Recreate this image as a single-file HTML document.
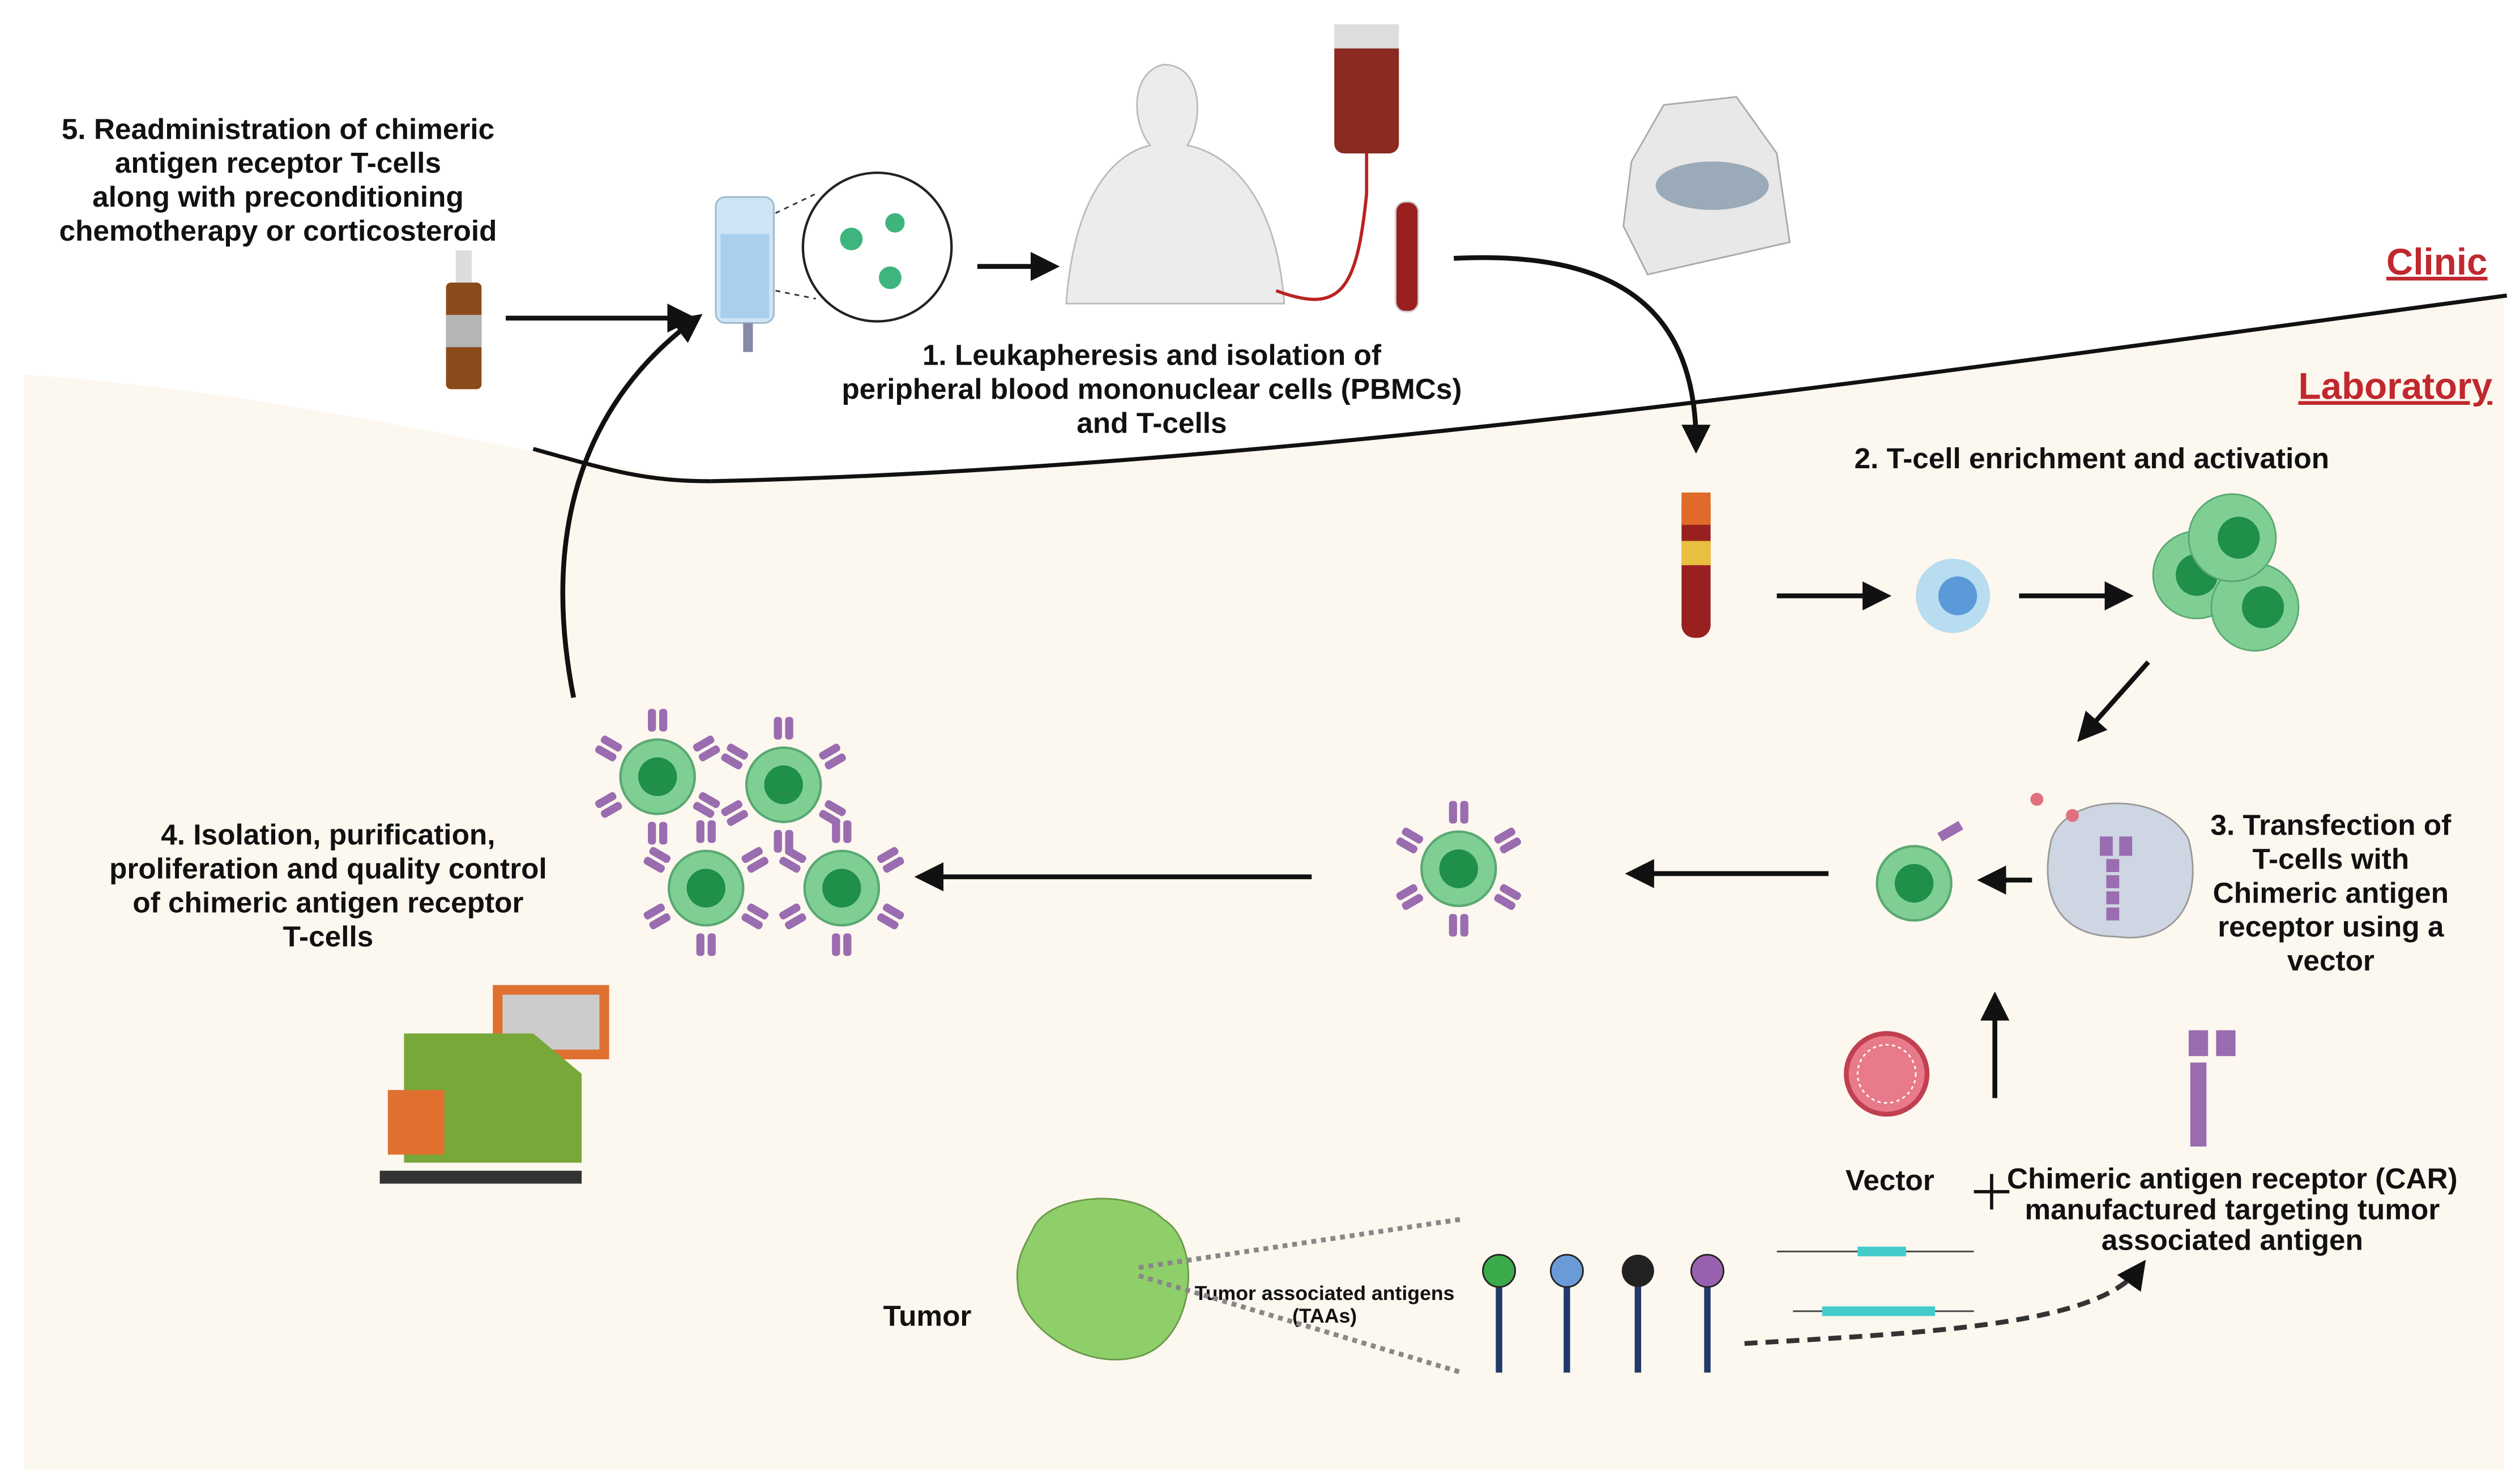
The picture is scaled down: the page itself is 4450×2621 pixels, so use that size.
<!DOCTYPE html>
<html><head><meta charset="utf-8"><style>
html,body{margin:0;padding:0;background:#fff}
svg{display:block}
text{font-family:"Liberation Sans",sans-serif;font-weight:bold;fill:#111}
</style></head><body>
<svg width="4450" height="2621" viewBox="0 0 1560 919" xmlns="http://www.w3.org/2000/svg">
<defs>
<marker id="ah" markerWidth="6" markerHeight="6" refX="4" refY="3" orient="auto" markerUnits="strokeWidth"><path d="M0,0 L6,3 L0,6 Z" fill="#111"/></marker>
<g id="cell"><circle r="23" fill="#7fcf95" stroke="#5aa872" stroke-width="1.5"/><circle r="12" fill="#1f8f4a"/></g>
<g id="ccell">
<use href="#cell"/>
<g fill="#9a6cb0"><rect x="-6" y="-42" width="5" height="14" rx="2"/><rect x="1" y="-42" width="5" height="14" rx="2"/>
<rect x="-6" y="28" width="5" height="14" rx="2"/><rect x="1" y="28" width="5" height="14" rx="2"/>
<g transform="rotate(60)"><rect x="-6" y="-42" width="5" height="14" rx="2"/><rect x="1" y="-42" width="5" height="14" rx="2"/><rect x="-6" y="28" width="5" height="14" rx="2"/><rect x="1" y="28" width="5" height="14" rx="2"/></g>
<g transform="rotate(-60)"><rect x="-6" y="-42" width="5" height="14" rx="2"/><rect x="1" y="-42" width="5" height="14" rx="2"/><rect x="-6" y="28" width="5" height="14" rx="2"/><rect x="1" y="28" width="5" height="14" rx="2"/></g></g>
</g>
</defs>
<path d="M15,232 C200,245 330,285 440,298 C800,290 1200,230 1550,183 L1550,910 L15,910 Z" fill="#fcf7ef"/>
<path d="M440,298 C800,290 1200,230 1552,183" fill="none" stroke="#111" stroke-width="2.5"/>
<path d="M330,278 C380,292 400,298 440,298" fill="none" stroke="#111" stroke-width="2.5"/>
<text x="1540" y="170" text-anchor="end" font-size="23" style="fill:#c0282d;text-decoration:underline">Clinic</text>
<text x="1543" y="247" text-anchor="end" font-size="23" style="fill:#c0282d;text-decoration:underline">Laboratory</text>
<g font-size="18" text-anchor="middle">
<text x="172" y="86">5. Readministration of chimeric</text>
<text x="172" y="107">antigen receptor T-cells</text>
<text x="172" y="128">along with preconditioning</text>
<text x="172" y="149">chemotherapy or corticosteroid</text>
<text x="713" y="226">1.  Leukapheresis and isolation of</text>
<text x="713" y="247">peripheral blood mononuclear cells (PBMCs)</text>
<text x="713" y="268">and T-cells</text>
<text x="1295" y="290">2. T-cell enrichment and activation</text>
<text x="1443" y="517">3. Transfection of</text>
<text x="1443" y="538">T-cells with</text>
<text x="1443" y="559">Chimeric antigen</text>
<text x="1443" y="580">receptor using a</text>
<text x="1443" y="601">vector</text>
<text x="203" y="523">4. Isolation, purification,</text>
<text x="203" y="544">proliferation and quality control</text>
<text x="203" y="565">of chimeric antigen receptor</text>
<text x="203" y="586">T-cells</text>
<text x="1170" y="737">Vector</text>
<text x="1382" y="736">Chimeric antigen receptor (CAR)</text>
<text x="1382" y="755">manufactured targeting tumor</text>
<text x="1382" y="774">associated antigen</text>
<text x="574" y="821">Tumor</text>
</g>
<text x="820" y="805" font-size="12.5" text-anchor="middle">Tumor associated antigens</text>
<text x="820" y="819" font-size="12.5" text-anchor="middle">(TAAs)</text>
<!-- bottle -->
<rect x="282" y="155" width="10" height="20" fill="#ddd"/><rect x="276" y="175" width="22" height="66" rx="3" fill="#8a4a1a"/><rect x="276" y="195" width="22" height="20" fill="#b5b5b5"/>
<!-- IV bag -->
<rect x="443" y="122" width="36" height="78" rx="6" fill="#cfe4f4" stroke="#9cb8cc"/><rect x="446" y="145" width="30" height="52" fill="#a8d0ec"/><rect x="460" y="200" width="6" height="18" fill="#88a"/>
<circle cx="543" cy="153" r="46" fill="#fff" stroke="#222" stroke-width="1.5"/>
<circle cx="527" cy="148" r="7" fill="#3db57c"/><circle cx="554" cy="138" r="6" fill="#3db57c"/><circle cx="551" cy="172" r="7" fill="#3db57c"/>
<line x1="480" y1="132" x2="505" y2="120" stroke="#333" stroke-dasharray="3 3"/><line x1="480" y1="180" x2="505" y2="185" stroke="#333" stroke-dasharray="3 3"/>
<!-- person -->
<path d="M660,188 C665,120 690,95 712,90 C700,75 700,45 720,40 C745,40 745,75 735,90 C760,95 790,120 795,188 Z" fill="#ececec" stroke="#bbb"/>
<!-- blood bag -->
<rect x="826" y="25" width="40" height="70" rx="6" fill="#8a2a20"/><rect x="826" y="15" width="40" height="15" fill="#ddd"/>
<rect x="864" y="125" width="14" height="68" rx="6" fill="#9a2020" stroke="#ccc"/>
<path d="M846,95 L846,120 C840,180 830,195 790,180" fill="none" stroke="#b22" stroke-width="2"/>
<!-- centrifuge -->
<path d="M1010,100 L1030,65 L1075,60 L1100,95 L1108,150 L1020,170 L1005,140 Z" fill="#e8e8e8" stroke="#aaa"/>
<ellipse cx="1060" cy="115" rx="35" ry="15" fill="#9aaab8"/>
<!-- arrows -->
<g stroke="#111" stroke-width="3" fill="none" marker-end="url(#ah)">
<path d="M313,197 L425,197"/>
<path d="M605,165 L650,165"/>
<path d="M900,160 C1000,155 1050,190 1050,275"/>
<path d="M1100,369 L1165,369"/>
<path d="M1250,369 L1315,369"/>
<path d="M1330,410 L1290,455"/>
<path d="M1258,545 L1230,545"/>
<path d="M1132,541 L1012,541"/>
<path d="M812,543 L572,543"/>
<path d="M1235,680 L1235,620"/>
<path d="M355,432 C335,330 360,250 430,198"/>
</g>
<path d="M1080,832 C1200,825 1300,820 1325,785" stroke="#333" stroke-width="3" stroke-dasharray="8 5" fill="none" marker-end="url(#ah)"/>
<path d="M1222,738 h22 M1233,727 v22" stroke="#111" stroke-width="2"/>
<!-- tube -->
<rect x="1041" y="305" width="18" height="90" rx="8" fill="#9a2020"/><rect x="1041" y="305" width="18" height="20" fill="#e06a2a"/><rect x="1041" y="335" width="18" height="15" fill="#e8c040"/>
<circle cx="1209" cy="369" r="23" fill="#b8dcf0"/><circle cx="1212" cy="369" r="12" fill="#5b9ad8"/>
<g><circle cx="1360" cy="356" r="27" fill="#7fcf95" stroke="#5aa872"/><circle cx="1360" cy="356" r="13" fill="#1f8f4a"/>
<circle cx="1396" cy="376" r="27" fill="#7fcf95" stroke="#5aa872"/><circle cx="1401" cy="376" r="13" fill="#1f8f4a"/>
<circle cx="1382" cy="333" r="27" fill="#7fcf95" stroke="#5aa872"/><circle cx="1386" cy="333" r="13" fill="#1f8f4a"/></g>
<!-- transfection cell -->
<path d="M1270,520 C1280,490 1340,490 1355,520 C1365,560 1345,585 1310,580 C1275,580 1262,555 1270,520 Z" fill="#cdd6e2" stroke="#999"/>
<g fill="#9a6cb0"><rect x="1300" y="518" width="8" height="12"/><rect x="1312" y="518" width="8" height="12"/><rect x="1304" y="532" width="8" height="8"/><rect x="1304" y="542" width="8" height="8"/><rect x="1304" y="552" width="8" height="8"/><rect x="1304" y="562" width="8" height="8"/></g>
<circle cx="1261" cy="495" r="4" fill="#e07080"/><circle cx="1283" cy="505" r="4" fill="#e07080"/>
<use href="#cell" x="1185" y="547"/><rect x="1200" y="512" width="15" height="6" fill="#9a6cb0" transform="rotate(-30 1207 515)"/>
<use href="#ccell" x="903" y="538"/>
<use href="#ccell" x="407" y="481"/><use href="#ccell" x="485" y="486"/><use href="#ccell" x="437" y="550"/><use href="#ccell" x="521" y="550"/>
<!-- machine -->
<rect x="305" y="610" width="72" height="46" fill="#e07030" /><rect x="311" y="616" width="60" height="34" fill="#ccc"/>
<path d="M250,640 L330,640 L360,665 L360,720 L250,720 Z" fill="#78a83a"/><rect x="240" y="675" width="35" height="40" fill="#e07030"/><rect x="235" y="725" width="125" height="8" fill="#333"/>
<!-- vector -->
<circle cx="1168" cy="665" r="25" fill="#e87a8a" stroke="#c04050" stroke-width="3"/><circle cx="1168" cy="665" r="18" fill="none" stroke="#fff" stroke-dasharray="2 2"/>
<g fill="#9a6cb0"><rect x="1355" y="638" width="12" height="16"/><rect x="1372" y="638" width="12" height="16"/><rect x="1356" y="658" width="10" height="52"/></g>
<!-- tumor -->
<path d="M640,760 C650,740 700,735 720,755 C745,770 740,830 705,840 C670,850 630,820 630,795 C628,780 635,770 640,760 Z" fill="#8fcf6a" stroke="#6a9a4a"/>
<path d="M705,785 L905,755 M705,790 L905,850" stroke="#888" stroke-width="3" stroke-dasharray="3 3"/>
<g stroke="#223a6a" stroke-width="4"><line x1="928" y1="795" x2="928" y2="850"/><line x1="970" y1="795" x2="970" y2="850"/><line x1="1014" y1="795" x2="1014" y2="850"/><line x1="1057" y1="795" x2="1057" y2="850"/></g>
<circle cx="928" cy="787" r="10" fill="#3aaa4a" stroke="#222"/><circle cx="970" cy="787" r="10" fill="#6a9ad8" stroke="#222"/><circle cx="1014" cy="787" r="10" fill="#222"/><circle cx="1057" cy="787" r="10" fill="#9a60b0" stroke="#222"/>
<g stroke="#444"><line x1="1100" y1="775" x2="1222" y2="775"/><line x1="1110" y1="812" x2="1222" y2="812"/></g>
<rect x="1150" y="772" width="30" height="6" fill="#4cc"/><rect x="1128" y="809" width="70" height="6" fill="#4cc"/>
</svg>
</body></html>
